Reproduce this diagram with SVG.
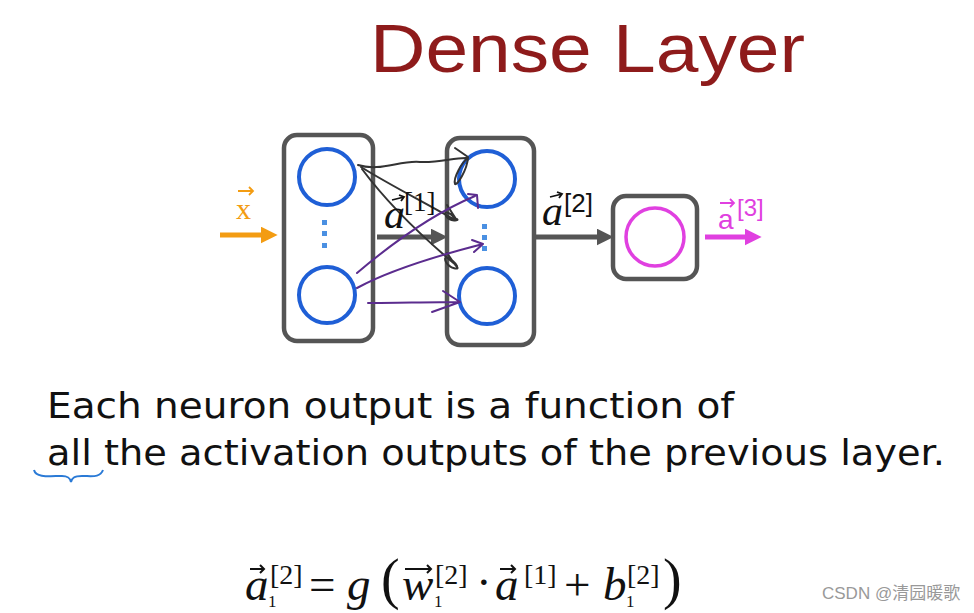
<svg xmlns="http://www.w3.org/2000/svg" width="974" height="613" viewBox="0 0 974 613">
<style>
.box{fill:#fff;stroke:#555;stroke-width:4.5}
.neu{fill:none;stroke:#1f5fd6;stroke-width:4}
.dot{fill:#4a90e2}
.math{font-family:"Liberation Serif",serif;font-style:italic;fill:#111}
.mr{font-family:"Liberation Serif",serif;fill:#111}
.hb{fill:none;stroke:#333;stroke-width:2;stroke-linecap:round;stroke-linejoin:round}
.hp{fill:none;stroke:#5b2c8e;stroke-width:2;stroke-linecap:round;stroke-linejoin:round}
.body{font-family:"DejaVu Sans",sans-serif;font-size:35px;fill:#111}
</style>
<defs>
<marker id="ah" viewBox="0 0 10 10" refX="2" refY="5" markerWidth="3.4" markerHeight="3.4" orient="auto"><path d="M0,0 L10,5 L0,10 z" fill="context-stroke"/></marker>
</defs>
<rect width="974" height="613" fill="#fff"/>
<text x="370" y="72" font-family="Liberation Sans,sans-serif" font-size="69" fill="#8e1b1b" textLength="435" lengthAdjust="spacingAndGlyphs">Dense Layer</text>

<g id="layer1">
<rect class="box" x="284" y="135" width="89" height="206" rx="13"/>
<circle class="neu" cx="327" cy="177" r="28"/>
<circle class="neu" cx="327" cy="295" r="28"/>
<rect class="dot" x="322" y="220" width="5" height="5"/>
<rect class="dot" x="322" y="231" width="5" height="5"/>
<rect class="dot" x="322" y="243" width="5" height="5"/>
</g>
<g id="layer2">
<rect class="box" x="447" y="138" width="87" height="207" rx="13"/>
<circle class="neu" cx="487" cy="179" r="28"/>
<circle class="neu" cx="487" cy="296" r="28"/>
<rect class="dot" x="482" y="224" width="5" height="5"/>
<rect class="dot" x="482" y="235" width="5" height="5"/>
<rect class="dot" x="482" y="246" width="5" height="5"/>
</g>
<g id="layer3">
<rect class="box" x="613" y="196" width="84" height="83" rx="13"/>
<circle cx="655" cy="237" r="29" fill="none" stroke="#e040e0" stroke-width="3.5"/>
</g>

<g id="connectors">
<line x1="220" y1="235" x2="264" y2="235" stroke="#f39c12" stroke-width="5" marker-end="url(#ah)"/>
<line x1="377" y1="237" x2="434" y2="237" stroke="#555" stroke-width="5" marker-end="url(#ah)"/>
<line x1="535" y1="237" x2="600" y2="237" stroke="#555" stroke-width="5" marker-end="url(#ah)"/>
<line x1="705" y1="237" x2="748" y2="237" stroke="#e040e0" stroke-width="5" marker-end="url(#ah)"/>
<path class="hb" d="M358,165 C380,172 400,160 420,162 C440,163 455,157 468,158 C467,170 457,186 455,184 C453,178 462,162 468,158 M455,148 L468,157"/>
<path class="hb" d="M361,167 C390,185 420,200 455,220 C452,212 442,210 446,216 C450,222 460,221 457,219 M447,205 L456,219"/>
<path class="hb" d="M362,169 C385,200 420,235 457,266 C452,258 442,254 446,262 C450,269 460,270 457,267 M447,253 L456,266"/>
<path class="hp" d="M357,273 C390,245 430,215 475,196 M468,194 L477,195 L478,208"/>
<path class="hp" d="M357,288 C390,270 440,255 483,244 M472,240 L483,244 L474,252"/>
<path class="hp" d="M368,303 C395,303 430,302 460,302 M443,291 L460,302 L432,312"/>
</g>

<g id="labels">
<text x="236" y="219" font-family="Liberation Serif,serif" font-size="30" fill="#f39c12">x</text>
<path d="M238,191 L253,191 M249,187 L253,191 L249,195" stroke="#f39c12" stroke-width="1.8" fill="none"/>
<text class="math" x="384" y="228" font-size="42">a</text>
<path d="M392,200 L404,197 M399,195 L404,197 L401,201" stroke="#111" stroke-width="1.8" fill="none"/>
<text class="mr" x="404" y="211" font-size="27">[1]</text>
<text class="math" x="542" y="225" font-size="42">a</text>
<path d="M550,197 L562,194 M557,192 L562,194 L559,198" stroke="#111" stroke-width="1.8" fill="none"/>
<text x="564" y="212" font-family="Liberation Sans,sans-serif" font-size="26" fill="#111">[2]</text>
<text x="718" y="229" font-family="Liberation Sans,sans-serif" font-size="28" fill="#e040e0">a</text>
<path d="M720,203 L734,203 M730,199 L734,203 L730,207" stroke="#e040e0" stroke-width="1.8" fill="none"/>
<text x="737" y="216" font-family="Liberation Sans,sans-serif" font-size="24" fill="#e040e0">[3]</text>
</g>

<text class="body" x="47" y="418" textLength="687" lengthAdjust="spacingAndGlyphs">Each neuron output is a function of</text>
<text class="body" x="47" y="465" textLength="898" lengthAdjust="spacingAndGlyphs">all the activation outputs of the previous layer.</text>
<path d="M34,470 C36,478 50,476 62,476 C68,476 70,478 71,482 C72,478 74,476 82,476 C92,476 100,478 103,470" fill="none" stroke="#2a7ad6" stroke-width="2"/>

<g id="formula">
<text class="math" x="245" y="600" font-size="47">a</text>
<path d="M250,569 L264,569 M260,565 L264,569 L260,573" stroke="#111" stroke-width="2" fill="none"/>
<text class="mr" x="270" y="584" font-size="28">[2]</text>
<text class="mr" x="268" y="607" font-size="17">1</text>
<text class="mr" x="309" y="600" font-size="47">=</text>
<text class="math" x="347" y="600" font-size="47">g</text>
<text class="mr" x="381" y="598" font-size="56">(</text>
<text class="math" x="402" y="600" font-size="47">w</text>
<path d="M405,569 L431,569 M427,565 L431,569 L427,573" stroke="#111" stroke-width="2" fill="none"/>
<text class="mr" x="435" y="584" font-size="28">[2]</text>
<text class="mr" x="434" y="607" font-size="17">1</text>
<text class="mr" x="476" y="598" font-size="47">·</text>
<text class="math" x="495" y="600" font-size="47">a</text>
<path d="M500,569 L515,569 M511,565 L515,569 L511,573" stroke="#111" stroke-width="2" fill="none"/>
<text class="mr" x="524" y="584" font-size="28">[1]</text>
<text class="mr" x="564" y="600" font-size="47">+</text>
<text class="math" x="603" y="600" font-size="47">b</text>
<text class="mr" x="627" y="584" font-size="28">[2]</text>
<text class="mr" x="626" y="607" font-size="17">1</text>
<text class="mr" x="663" y="598" font-size="56">)</text>
</g>

<text x="822" y="599" font-family="Liberation Sans,'Noto Sans CJK SC',sans-serif" font-size="17" fill="#999">CSDN @清园暖歌</text>
</svg>
